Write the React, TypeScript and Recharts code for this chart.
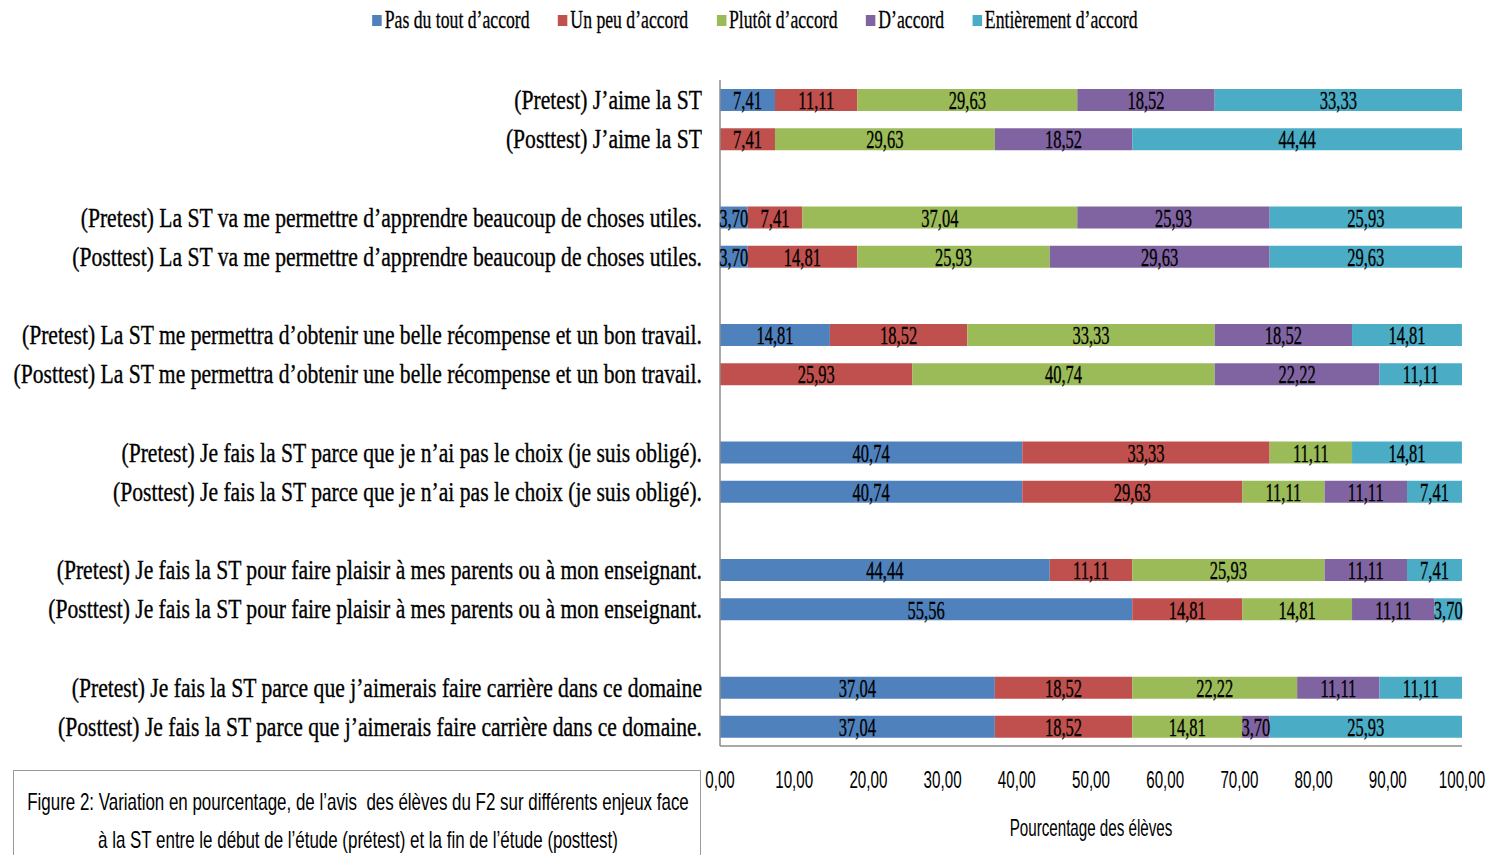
import React from "react";
import { BarChart, Bar, XAxis, YAxis, LabelList, Label } from "recharts";

const categories = [
  "(Pretest) J’aime la ST",
  "(Posttest) J’aime la ST",
  "(Pretest) La ST va me permettre d’apprendre beaucoup de choses utiles.",
  "(Posttest) La ST va me permettre d’apprendre beaucoup de choses utiles.",
  "(Pretest) La ST me permettra d’obtenir une belle récompense et un bon travail.",
  "(Posttest) La ST me permettra d’obtenir une belle récompense et un bon travail.",
  "(Pretest) Je fais la ST parce que je n’ai pas le choix (je suis obligé).",
  "(Posttest) Je fais la ST parce que je n’ai pas le choix (je suis obligé).",
  "(Pretest) Je fais la ST pour faire plaisir à mes parents ou à mon enseignant.",
  "(Posttest) Je fais la ST pour faire plaisir à mes parents ou à mon enseignant.",
  "(Pretest) Je fais la ST parce que j’aimerais faire carrière dans ce domaine",
  "(Posttest) Je fais la ST parce que j’aimerais faire carrière dans ce domaine.",
];

const pasDuTout = [7.41, null, 3.7, 3.7, 14.81, null, 40.74, 40.74, 44.44, 55.56, 37.04, 37.04];
const unPeu = [11.11, 7.41, 7.41, 14.81, 18.52, 25.93, 33.33, 29.63, 11.11, 14.81, 18.52, 18.52];
const plutot = [29.63, 29.63, 37.04, 25.93, 33.33, 40.74, 11.11, 11.11, 25.93, 14.81, 22.22, 14.81];
const daccord = [18.52, 18.52, 25.93, 29.63, 18.52, 22.22, null, 11.11, 11.11, 11.11, 11.11, 3.7];
const entierement = [33.33, 44.44, 25.93, 29.63, 14.81, 11.11, 14.81, 7.41, 7.41, 3.7, 11.11, 25.93];

const xTicks = [0, 10, 20, 30, 40, 50, 60, 70, 80, 90, 100];

const series = [
  { key: "pasDuTout", name: "Pas du tout d’accord", color: "#4F81BD", values: pasDuTout },
  { key: "unPeu", name: "Un peu d’accord", color: "#C0504D", values: unPeu },
  { key: "plutot", name: "Plutôt d’accord", color: "#9BBB59", values: plutot },
  { key: "daccord", name: "D’accord", color: "#8064A2", values: daccord },
  { key: "entierement", name: "Entièrement d’accord", color: "#4BACC6", values: entierement },
];

// pairs of pretest / posttest rows, with an empty row between each pair
const rows: any[] = [];
categories.forEach((name, i) => {
  const row: any = { name };
  series.forEach((s) => (row[s.key] = s.values[i]));
  rows.push(row);
  if (i % 2 === 1 && i < categories.length - 1) rows.push({ name: " ".repeat(i) });
});

const SERIF = "'Liberation Serif', 'DejaVu Serif', serif";
const SANS = "'Liberation Sans', Arial, sans-serif";

const fmt = (v: number) => v.toFixed(2).replace(".", ",");

const YTick = ({ x, y, payload }: any) => (
  <text
    transform={`translate(${x},${y}) scale(0.8,1)`}
    textAnchor="end"
    dominantBaseline="central"
    fontFamily={SERIF}
    fontSize={27}
    stroke="#000"
    strokeWidth={0.35}
    fill="#000"
  >
    {payload.value}
  </text>
);

const XTick = ({ x, y, payload }: any) => (
  <text
    transform={`translate(${x},${y}) scale(0.66,1)`}
    textAnchor="middle"
    dominantBaseline="central"
    fontFamily={SANS}
    fontSize={23}
    fill="#000"
  >
    {fmt(payload.value)}
  </text>
);

const BarLabel = (props: any) => {
  const { x, y, width, height, value } = props;
  if (value == null || value === 0) return null;
  return (
    <text
      transform={`translate(${Number(x) + Number(width) / 2},${Number(y) + Number(height) / 2 + 1}) scale(0.66,1)`}
      textAnchor="middle"
      dominantBaseline="central"
      fontFamily={SERIF}
      fontSize={25}
      stroke="#000"
      strokeWidth={0.3}
      fill="#000"
    >
      {fmt(Number(value))}
    </text>
  );
};

const App = () => {
  return (
    <div
      style={{
        position: "absolute",
        left: 0,
        top: 0,
        width: 1490,
        height: 855,
        overflow: "hidden",
        background: "#fff",
      }}
    >
      <div
        style={{
          position: "absolute",
          top: 5,
          left: 0,
          width: 1510,
          display: "flex",
          justifyContent: "center",
          transform: "scaleX(0.68)",
          transformOrigin: "755px 0",
          fontFamily: SERIF,
          fontSize: 26,
          lineHeight: "30px",
          gap: 42,
          WebkitTextStroke: "0.3px #000",
        }}
      >
        {series.map((s) => (
          <div key={s.key} style={{ display: "flex", alignItems: "center" }}>
            <div style={{ width: 14, height: 11, background: s.color, marginRight: 4 }} />
            <span>{s.name}</span>
          </div>
        ))}
      </div>
      <BarChart
        width={1490}
        height={855}
        data={rows}
        layout="vertical"
        margin={{ top: 80, right: 28, left: 0, bottom: 9 }}
        barSize={22}
      >
        <XAxis
          type="number"
          domain={[0, 100]}
          ticks={xTicks}
          allowDataOverflow
          axisLine={{ stroke: "#8c8c8c", strokeWidth: 1.5 }}
          tickLine={false}
          tick={<XTick />}
          tickMargin={28}
          height={100}
        >
          <Label
            value="Pourcentage des élèves"
            position="insideBottom"
            content={({ viewBox }: any) => (
              <text
                transform={`translate(${viewBox.x + viewBox.width / 2},${viewBox.y + 82}) scale(0.66,1)`}
                textAnchor="middle"
                dominantBaseline="central"
                fontFamily={SANS}
                fontSize={23}
                fill="#000"
              >
                Pourcentage des élèves
              </text>
            )}
          />
        </XAxis>
        <YAxis
          type="category"
          dataKey="name"
          width={720}
          axisLine={{ stroke: "#8c8c8c", strokeWidth: 1.5 }}
          tickLine={false}
          tick={<YTick />}
          tickMargin={12}
          interval={0}
        />
        {series.map((s) => (
          <Bar
            key={s.key}
            dataKey={s.key}
            name={s.name}
            stackId="a"
            fill={s.color}
            isAnimationActive={false}
          >
            <LabelList dataKey={s.key} content={<BarLabel />} />
          </Bar>
        ))}
      </BarChart>
      <div
        style={{
          position: "absolute",
          left: 13,
          top: 770,
          width: 688,
          height: 100,
          border: "1.5px solid #9a9a9a",
          boxSizing: "border-box",
          overflow: "hidden",
        }}
      >
        <div
          style={{
            width: 1040,
            marginLeft: -176,
            transform: "scaleX(0.705)",
            transformOrigin: "520px 0",
            textAlign: "center",
            fontFamily: SANS,
            fontSize: 24,
            lineHeight: "38px",
            paddingTop: 12,
          }}
        >
          Figure 2: Variation en pourcentage, de l’avis&nbsp; des élèves du F2 sur différents enjeux face
          <br />à la ST entre le début de l’étude (prétest) et la fin de l’étude (posttest)
        </div>
      </div>
    </div>
  );
};

export default App;
